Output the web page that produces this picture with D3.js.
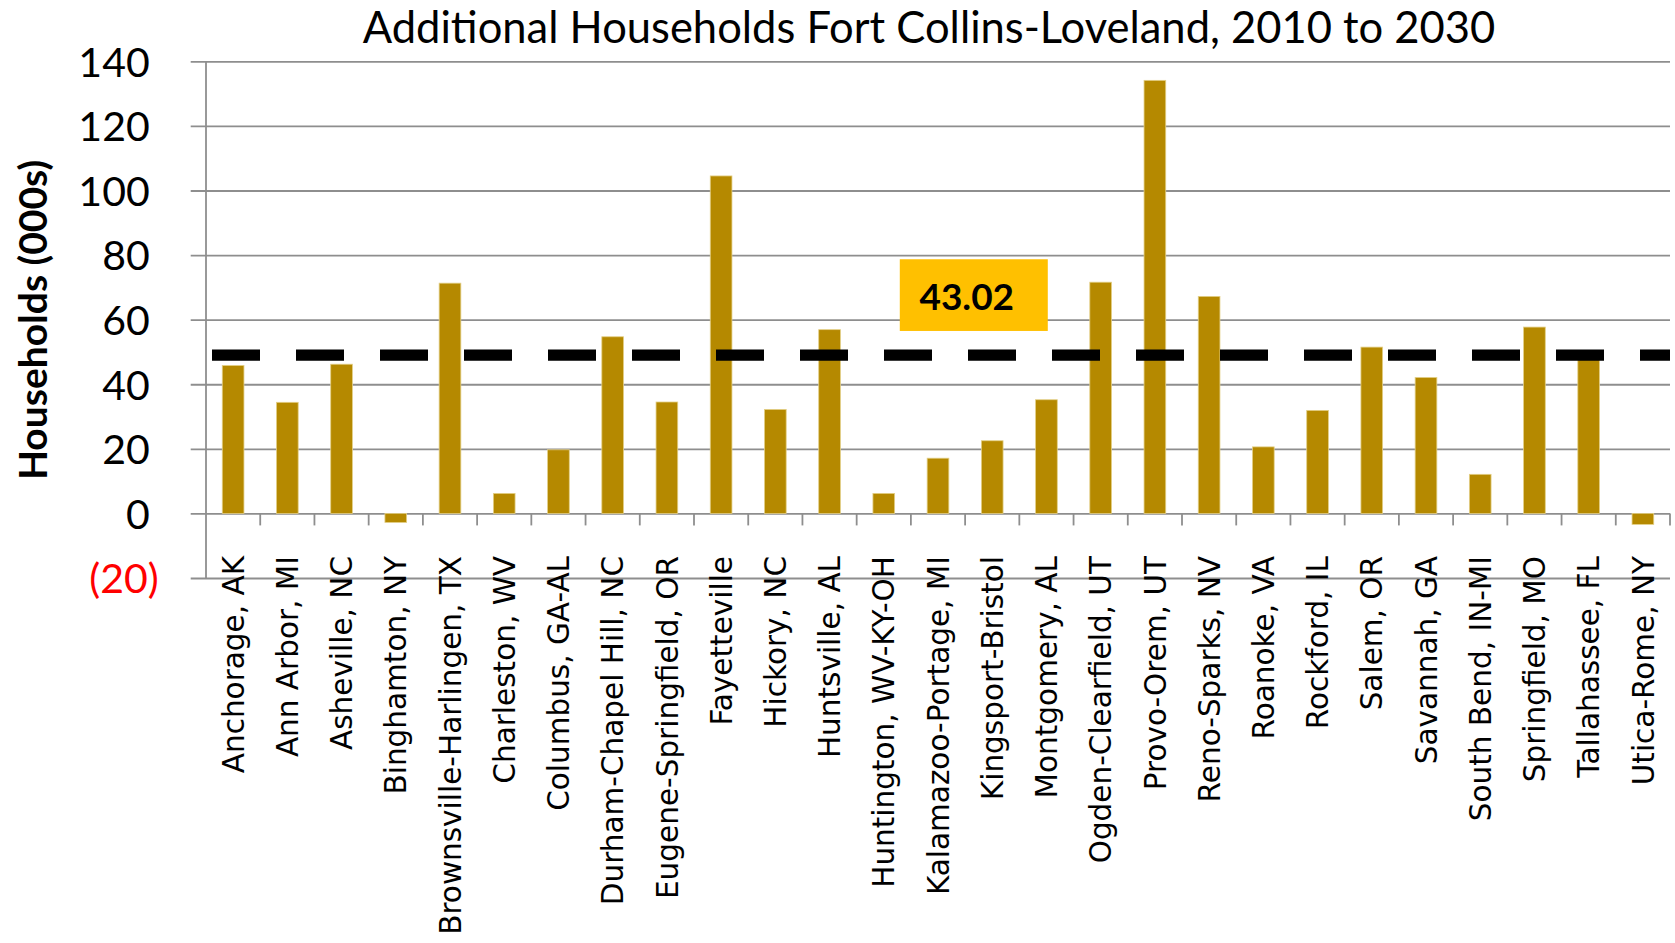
<!DOCTYPE html>
<html lang="en">
<head>
    <meta charset="UTF-8">
    <title>Additional Households Fort Collins-Loveland, 2010 to 2030</title>
    <style>
        body {
            margin: 0;
            background-color: #FFFFFF;
        }
        svg {
            display: block;
        }
        .title {
            font-family: Lato, 'Open Sans', sans-serif;
            font-size: 43.5px;
            fill: #000;
        }
        .y-title {
            font-family: Lato, 'Open Sans', sans-serif;
            font-weight: 700;
            font-size: 39px;
        }
        .y-axis text {
            font-family: Lato, 'Open Sans', sans-serif;
            font-size: 41px;
        }
        .cat-label {
            font-family: 'DejaVu Sans', Verdana, sans-serif;
            font-size: 29.5px;
            fill: #000;
        }
        .avg-label {
            font-family: Lato, 'Open Sans', sans-serif;
            font-weight: 700;
            font-size: 37px;
        }
    </style>
</head>
<body>
    <div id="chart"></div>

    <script src="https://d3js.org/d3.v7.min.js"></script>
    <script>
        // metro areas along the x axis
        const categories = [
            "Anchorage, AK", "Ann Arbor, MI", "Asheville, NC", "Binghamton, NY",
            "Brownsville-Harlingen, TX", "Charleston, WV", "Columbus, GA-AL",
            "Durham-Chapel Hill, NC", "Eugene-Springfield, OR", "Fayetteville",
            "Hickory, NC", "Huntsville, AL", "Huntington, WV-KY-OH",
            "Kalamazoo-Portage, MI", "Kingsport-Bristol", "Montgomery, AL",
            "Ogden-Clearfield, UT", "Provo-Orem, UT", "Reno-Sparks, NV",
            "Roanoke, VA", "Rockford, IL", "Salem, OR", "Savannah, GA",
            "South Bend, IN-MI", "Springfield, MO", "Tallahassee, FL", "Utica-Rome, NY"
        ];

        // additional households, thousands
        const households = [
            45.8, 34.4, 46.2, -2.8,
            71.3, 6.2, 19.7,
            54.7, 34.5, 104.5,
            32.2, 56.9, 6.2,
            17.1, 22.5, 35.2,
            71.6, 134.1, 67.2,
            20.6, 31.9, 51.5, 42.1,
            12.1, 57.7, 49.0, -3.4
        ];

        const yTicks = [-20, 0, 20, 40, 60, 80, 100, 120, 140];

        // dashed reference line and its call-out
        const refLineValue = 49.0;
        const refLabel = "43.02";
        const refBoxTop = 78.7;
        const refBoxBottom = 56.5;

        const width = 1675;
        const height = 943;

        const svg = d3.select("#chart").append("svg")
            .attr("width", width)
            .attr("height", height);

        const plotLeft = 206, plotRight = 1670;

        const y = d3.scaleLinear()
            .domain([-20, 140])
            .range([578, 61.3]);

        // one cell per category (ticks sit on the cell edges)
        const xCell = d3.scaleBand()
            .domain(categories)
            .range([plotLeft, plotRight]);

        const x = d3.scaleBand()
            .domain(categories)
            .range([plotLeft, plotRight])
            .paddingInner(0.6)
            .paddingOuter(0.3);

        // title
        svg.append("text")
            .attr("class", "title")
            .attr("x", 929)
            .attr("y", 43)
            .attr("text-anchor", "middle")
            .text("Additional Households Fort Collins-Loveland, 2010 to 2030");

        // gridlines + tick labels
        const yAxis = svg.append("g")
            .attr("class", "y-axis")
            .attr("transform", `translate(${plotRight},0)`)
            .call(d3.axisLeft(y)
                .tickValues(yTicks)
                .tickSize(plotRight - 190.7)
                .tickPadding(41)
                .tickFormat(d => d < 0 ? `(${-d})` : d));

        yAxis.select(".domain").remove();
        yAxis.selectAll(".tick line")
            .attr("stroke", "#8E8E8E")
            .attr("stroke-width", 1.8);
        yAxis.selectAll(".tick text")
            .attr("dy", "0.36em")
            .style("fill", d => d < 0 ? "#FF0000" : "#000000")
            .attr("dx", d => d < 0 ? 9 : 0);

        // vertical axis line
        svg.append("line")
            .attr("x1", plotLeft).attr("x2", plotLeft)
            .attr("y1", y(140)).attr("y2", y(-20))
            .attr("stroke", "#8E8E8E")
            .attr("stroke-width", 1.8);

        // category tick marks below the zero line
        const edges = categories.slice(1).map(c => xCell(c)).concat([plotRight]);
        svg.selectAll(".cat-tick")
            .data(edges)
            .enter().append("line")
            .attr("class", "cat-tick")
            .attr("x1", d => d).attr("x2", d => d)
            .attr("y1", y(0)).attr("y2", y(0) + 12)
            .attr("stroke", "#8E8E8E")
            .attr("stroke-width", 1.8);

        // bars
        svg.selectAll(".bar")
            .data(categories)
            .enter().append("rect")
            .attr("class", "bar")
            .attr("x", d => x(d))
            .attr("width", x.bandwidth())
            .attr("y", (d, i) => y(Math.max(0, households[i])))
            .attr("height", (d, i) => Math.abs(y(households[i]) - y(0)))
            .attr("fill", "#B58900")
            .attr("stroke", "#E3CF86")
            .attr("stroke-width", 0.8);

        // category labels, rotated
        svg.selectAll(".cat-label")
            .data(categories)
            .enter().append("text")
            .attr("class", "cat-label")
            .attr("transform", d => `translate(${xCell(d) + xCell.bandwidth() / 2},556) rotate(-90)`)
            .attr("text-anchor", "end")
            .attr("dy", "0.36em")
            .text(d => d);

        // dashed reference line
        svg.append("line")
            .attr("x1", 212)
            .attr("x2", plotRight)
            .attr("y1", y(refLineValue))
            .attr("y2", y(refLineValue))
            .attr("stroke", "#000")
            .attr("stroke-width", 11.3)
            .attr("stroke-dasharray", "48 36");

        // call-out box
        const boxCx = plotLeft + 14.16 * xCell.step();
        svg.append("rect")
            .attr("x", boxCx - 74)
            .attr("width", 148)
            .attr("y", y(refBoxTop))
            .attr("height", y(refBoxBottom) - y(refBoxTop))
            .attr("fill", "#FFC000");

        svg.append("text")
            .attr("class", "avg-label")
            .attr("x", boxCx - 7)
            .attr("y", y(refBoxBottom) - 20.5)
            .attr("text-anchor", "middle")
            .text(refLabel);

        // y axis title
        svg.append("text")
            .attr("class", "y-title")
            .attr("transform", "translate(33,320) rotate(-90)")
            .attr("text-anchor", "middle")
            .attr("dy", "0.36em")
            .text("Households (000s)");
    </script>
</body>
</html>
